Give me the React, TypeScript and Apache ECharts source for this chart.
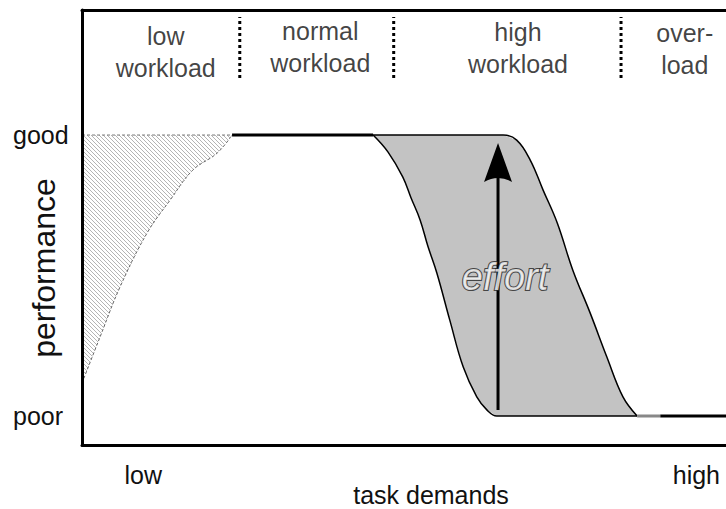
import React, { useEffect, useRef } from 'react';
import * as echarts from 'echarts';

// x: task demands (0 = left end of axis, 100 = right end); y: performance (0 = poor, 100 = good)
const perfTickValues = [0, 100];
const perfTickLabels = ['poor', 'good'];
const demandTickValues = [9.5, 95.4];
const demandTickLabels = ['low', 'high'];
const xAxisTitle = 'task demands';
const yAxisTitle = 'performance';

const regionLabels = ['low\nworkload', 'normal\nworkload', 'high\nworkload', 'over-\nload'];
const regionLabelX = [13.0, 37.0, 67.7, 93.6];
const regionLabelY = [129.4, 131.2, 130.8, 130.5];
const regionBoundaries = [24.5, 48.4, 83.7];
const boundaryLow = 120.3;
const boundaryHigh = 142.0;

// low workload: spare capacity (hatched)
const underX = [0, 2.8, 5.9, 10.1, 13.7, 17.2, 21.0, 23.3];
const underCurve = [11.7, 28.1, 45.9, 65.1, 76.9, 87.5, 93.6, 100];

// effort band
const bandX = [45.2, 47.5, 49.8, 51.1, 52.5, 53.7, 55.1, 57.1, 59.2, 61.3, 62.9, 64.4, 65.4, 67.5, 69.6, 71.6, 73.8, 76.2, 78.9, 81.5, 84.0, 86.2];
const bandLower = [100, 94.0, 85.1, 77.6, 69.8, 60.5, 50.9, 34.2, 17.4, 6.8, 2.1, 0, 0, 0, 0, 0, 0, 0, 0, 0, 0, 0];
const bandUpper = [100, 100, 100, 100, 100, 100, 100, 100, 100, 100, 100, 100, 100, 98.2, 91.1, 80.4, 68.7, 52.0, 36.7, 21.0, 6.8, 0];

// plateaus
const goodPlateauX = [23.3, 45.2];
const poorGrayX = [86.2, 89.8];
const poorPlateauX = [89.8, 100];

// effort arrow
const effortX = 64.6;
const effortFrom = 2.1;
const effortShaftTo = 88;
const effortTip = 97.2;
const effortLabelPos = [65.7, 49.5];

const FONT = "'Liberation Sans', Arial, Helvetica, sans-serif";
const TEXT = '#111';

function makeHatch(): HTMLCanvasElement {
  const c = document.createElement('canvas');
  c.width = 4;
  c.height = 4;
  const ctx = c.getContext('2d')!;
  ctx.fillStyle = '#ffffff';
  ctx.fillRect(0, 0, 4, 4);
  ctx.strokeStyle = '#b4b4b4';
  ctx.lineWidth = 1;
  ctx.beginPath();
  ctx.moveTo(-1, -1);
  ctx.lineTo(5, 5);
  ctx.moveTo(-1, 3);
  ctx.lineTo(1, 5);
  ctx.moveTo(3, -1);
  ctx.lineTo(5, 1);
  ctx.stroke();
  return c;
}

export default function App() {
  const ref = useRef<HTMLDivElement>(null);
  useEffect(() => {
    if (!ref.current) return;
    const chart = echarts.init(ref.current, null, { renderer: 'svg' });
    const hatch = makeHatch();
    const plainLine = (data: number[][], color: string, width: number, extra: any = {}) => ({
      type: 'line',
      data,
      symbol: 'none',
      silent: true,
      lineStyle: { color, width, cap: 'butt' },
      ...extra,
    });

    const option: any = {
      animation: false,
      backgroundColor: '#fff',
      grid: { left: 82, right: 0, top: 10, bottom: 64, containLabel: false, outerBoundsMode: 'none' },
      xAxis: [
        {
          type: 'value',
          min: 0,
          max: 100,
          position: 'bottom',
          z: 10,
          axisLine: { show: true, onZero: false, lineStyle: { color: '#000', width: 3 } },
          axisTick: { show: false },
          splitLine: { show: false },
          axisLabel: {
            show: true,
            customValues: demandTickValues,
            formatter: (v: number) => demandTickLabels[demandTickValues.indexOf(v)] ?? '',
            margin: 17,
            fontSize: 25,
            fontFamily: FONT,
            color: TEXT,
          },
        },
        {
          type: 'value',
          min: 0,
          max: 100,
          position: 'top',
          z: 10,
          axisLine: { show: true, onZero: false, lineStyle: { color: '#000', width: 3 } },
          axisTick: { show: false },
          splitLine: { show: false },
          axisLabel: { show: false },
        },
      ],
      yAxis: {
        type: 'value',
        min: -10.32,
        max: 144.5,
        z: 10,
        axisLine: { show: true, onZero: false, lineStyle: { color: '#000', width: 3 } },
        axisTick: { show: false },
        splitLine: { show: false },
        axisLabel: {
          show: true,
          customValues: perfTickValues,
          formatter: (v: number) => perfTickLabels[perfTickValues.indexOf(v)] ?? '',
          align: 'left',
          margin: 69,
          fontSize: 25,
          fontFamily: FONT,
          color: TEXT,
        },
      },
      graphic: [
        {
          type: 'text',
          x: 44,
          y: 268,
          rotation: Math.PI / 2,
          silent: true,
          style: {
            text: yAxisTitle,
            fontSize: 32,
            fontFamily: FONT,
            fill: TEXT,
            align: 'center',
            verticalAlign: 'middle',
          },
        },
        {
          type: 'text',
          x: 431,
          y: 495,
          silent: true,
          style: {
            text: xAxisTitle,
            fontSize: 25,
            fontFamily: FONT,
            fill: TEXT,
            align: 'center',
            verticalAlign: 'middle',
          },
        },
      ],
      series: [
        // hatched spare capacity fill
        {
          type: 'custom',
          coordinateSystem: 'cartesian2d',
          data: underX.map((x, i) => [x, underCurve[i]]),
          silent: true,
          z: 1,
          renderItem: (params: any, api: any) => {
            if (params.dataIndex !== 0) return null;
            const pts = underX.map((x, i) => api.coord([x, underCurve[i]]));
            pts.push(api.coord([underX[0], 100]));
            return {
              type: 'polygon',
              shape: { points: pts },
              style: { fill: { image: hatch, repeat: 'repeat', imageWidth: 4, imageHeight: 4 }, stroke: 'none' },
            };
          },
        },
        // hatched region outline (dashed)
        {
          type: 'line',
          data: underX.map((x, i) => [x, underCurve[i]]),
          smooth: 0.4,
          symbol: 'none',
          silent: true,
          z: 3,
          lineStyle: { color: '#666', width: 1, type: [3, 2] },
        },
        plainLine([[underX[0], 100], [underX[underX.length - 1], 100]], '#777', 1, {
          z: 3,
          lineStyle: { color: '#777', width: 1, type: [3, 2] },
        }),
        // effort band fill
        {
          type: 'custom',
          coordinateSystem: 'cartesian2d',
          data: bandX.map((x, i) => [x, bandLower[i], bandUpper[i]]),
          encode: { x: 0, y: [1, 2] },
          silent: true,
          z: 1,
          renderItem: (params: any, api: any) => {
            if (params.dataIndex !== 0) return null;
            const up = bandX.map((x, i) => api.coord([x, bandUpper[i]]));
            const low = bandX.map((x, i) => api.coord([x, bandLower[i]])).reverse();
            return {
              type: 'polygon',
              shape: { points: up.concat(low) },
              style: { fill: '#c3c3c3', stroke: 'none' },
            };
          },
        },
        // effort band outlines
        {
          type: 'line',
          data: bandX.map((x, i) => [x, bandLower[i]]),
          smooth: 0.4,
          symbol: 'none',
          silent: true,
          z: 3,
          lineStyle: { color: '#000', width: 1.5 },
        },
        {
          type: 'line',
          data: bandX.map((x, i) => [x, bandUpper[i]]),
          smooth: 0.4,
          symbol: 'none',
          silent: true,
          z: 3,
          lineStyle: { color: '#000', width: 1.5 },
        },
        // plateaus
        plainLine(goodPlateauX.map((x) => [x, 100]), '#000', 3, { z: 4 }),
        plainLine(poorGrayX.map((x) => [x, 0]), '#888', 3, { z: 4 }),
        plainLine(poorPlateauX.map((x) => [x, 0]), '#000', 3, { z: 4 }),
        // region boundaries (dotted)
        ...regionBoundaries.map((bx) =>
          plainLine([[bx, boundaryLow], [bx, boundaryHigh]], '#000', 3, {
            lineStyle: { color: '#000', width: 3, type: [3, 3], cap: 'butt' },
          })
        ),
        // effort arrow shaft
        plainLine([[effortX, effortFrom], [effortX, effortShaftTo]], '#000', 3, { z: 4 }),
        // arrow head
        {
          type: 'scatter',
          data: [[effortX, effortTip]],
          symbol: 'path://M14,0 L28,39 Q14,31 0,39 Z',
          symbolSize: [28, 39],
          symbolOffset: [0, '50%'],
          silent: true,
          z: 5,
          itemStyle: { color: '#000', opacity: 1 },
        },
        // effort label
        {
          type: 'scatter',
          data: [{ value: effortLabelPos, name: 'effort' }],
          symbolSize: 0,
          silent: true,
          z: 6,
          label: {
            show: true,
            position: 'inside',
            formatter: '{b}',
            fontSize: 38,
            fontStyle: 'italic',
            fontFamily: FONT,
            color: '#fff',
            textBorderColor: '#222',
            textBorderWidth: 2,
          },
        },
        // workload region labels
        {
          type: 'scatter',
          data: regionLabels.map((t, i) => ({ value: [regionLabelX[i], regionLabelY[i]], name: t })),
          symbolSize: 0,
          silent: true,
          label: {
            show: true,
            position: 'inside',
            formatter: '{b}',
            fontSize: 25,
            lineHeight: 32,
            align: 'center',
            fontFamily: FONT,
            color: TEXT,
          },
        },
      ],
    };
    chart.setOption(option);
    return () => chart.dispose();
  }, []);
  return (
    <div
      ref={ref}
      style={{ position: 'fixed', left: 0, top: 0, width: 726, height: 509, background: '#fff' }}
    />
  );
}
